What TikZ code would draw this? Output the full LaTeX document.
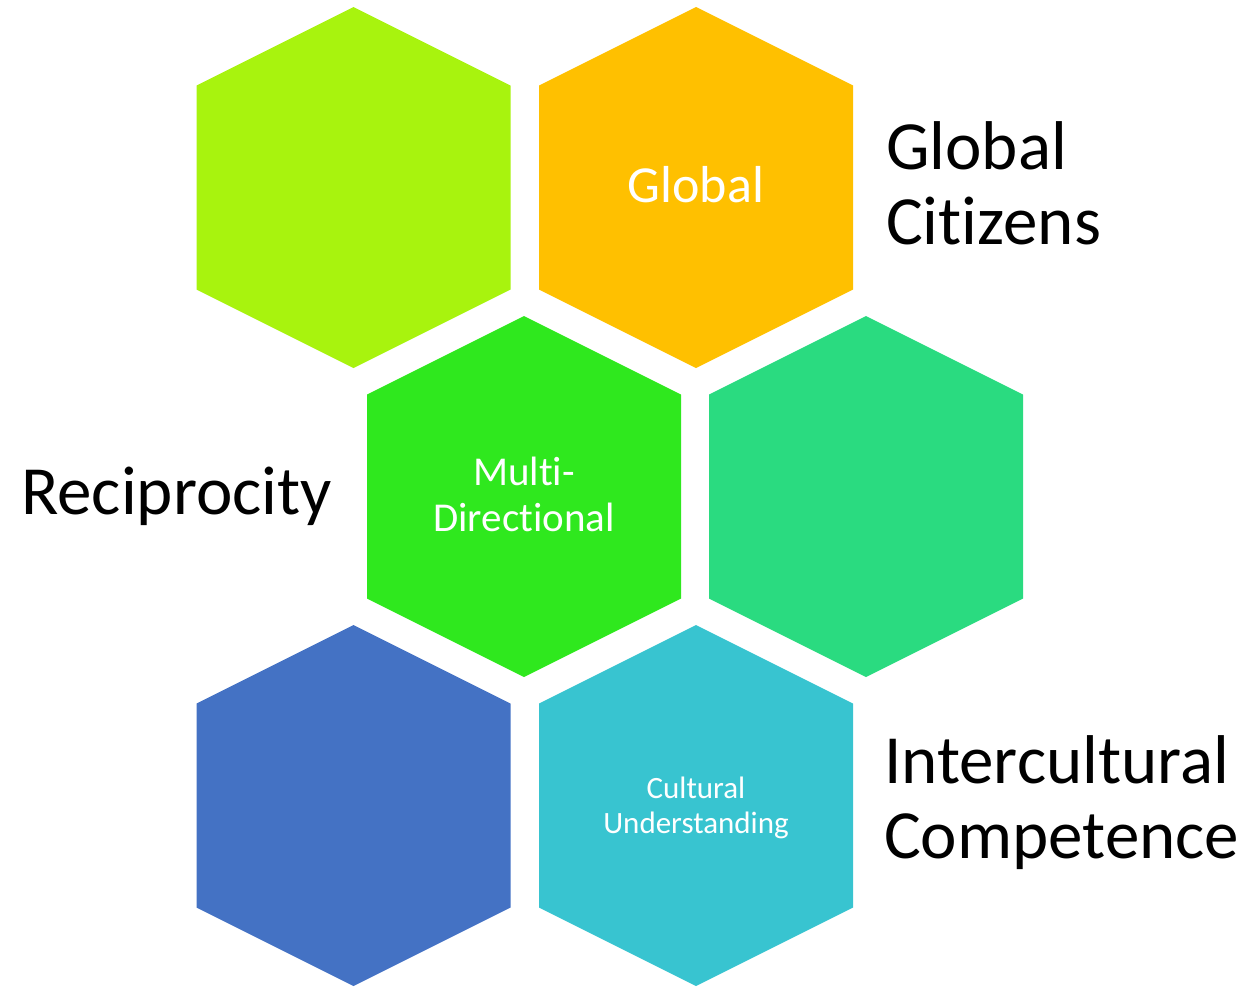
\documentclass[tikz,border=0pt]{standalone}
\usepackage{fontspec}
\setmainfont{Carlito}[RawFeature={-liga;-clig;-calt;-dlig}]
\definecolor{hlime}{RGB}{168,243,14}
\definecolor{horange}{RGB}{255,192,0}
\definecolor{hgreen}{RGB}{47,232,30}
\definecolor{hteal}{RGB}{42,219,128}
\definecolor{hblue}{RGB}{68,114,196}
\definecolor{hcyan}{RGB}{56,196,208}
\newcommand\hexshape[3]{%
  \fill[#3] (#1-157,#2-102) -- (#1,#2-180.5) -- (#1+157,#2-102)
    -- (#1+157,#2+102) -- (#1,#2+180.5) -- (#1-157,#2+102) -- cycle;}
\tikzset{
  biglabel/.style={inner sep=0pt, align=left, font=\fontsize{69}{75}\selectfont, text=black},
  hexlabel/.style={inner sep=0pt, align=center, text=white}
}
\begin{document}
\begin{tikzpicture}[x=1pt,y=-1pt]
\useasboundingbox (0,0) rectangle (1250,986);
\hexshape{353.5}{187.5}{hlime}
\hexshape{696}{187.5}{horange}
\hexshape{524}{496.5}{hgreen}
\hexshape{866}{496.5}{hteal}
\hexshape{353.5}{805.5}{hblue}
\hexshape{696}{805.5}{hcyan}
\node[hexlabel, font=\fontsize{52}{60}\selectfont, anchor=base] (glob) at (696,202) {Global};
\node[hexlabel, font=\fontsize{41}{46}\selectfont, anchor=base] (multi) at (524,531) {Multi-\\Directional};
\node[hexlabel, font=\fontsize{31}{35}\selectfont, anchor=base] (cult) at (696,833) {Cultural\\Understanding};
\node[biglabel, anchor=base west] (gc) at (886,244) {Global\\Citizens};
\node[biglabel, anchor=base west] (rec) at (21,514) {Reciprocity};
\node[biglabel, anchor=base west] (ic) at (884,858) {Intercultural\\Competence};
\end{tikzpicture}
\end{document}
